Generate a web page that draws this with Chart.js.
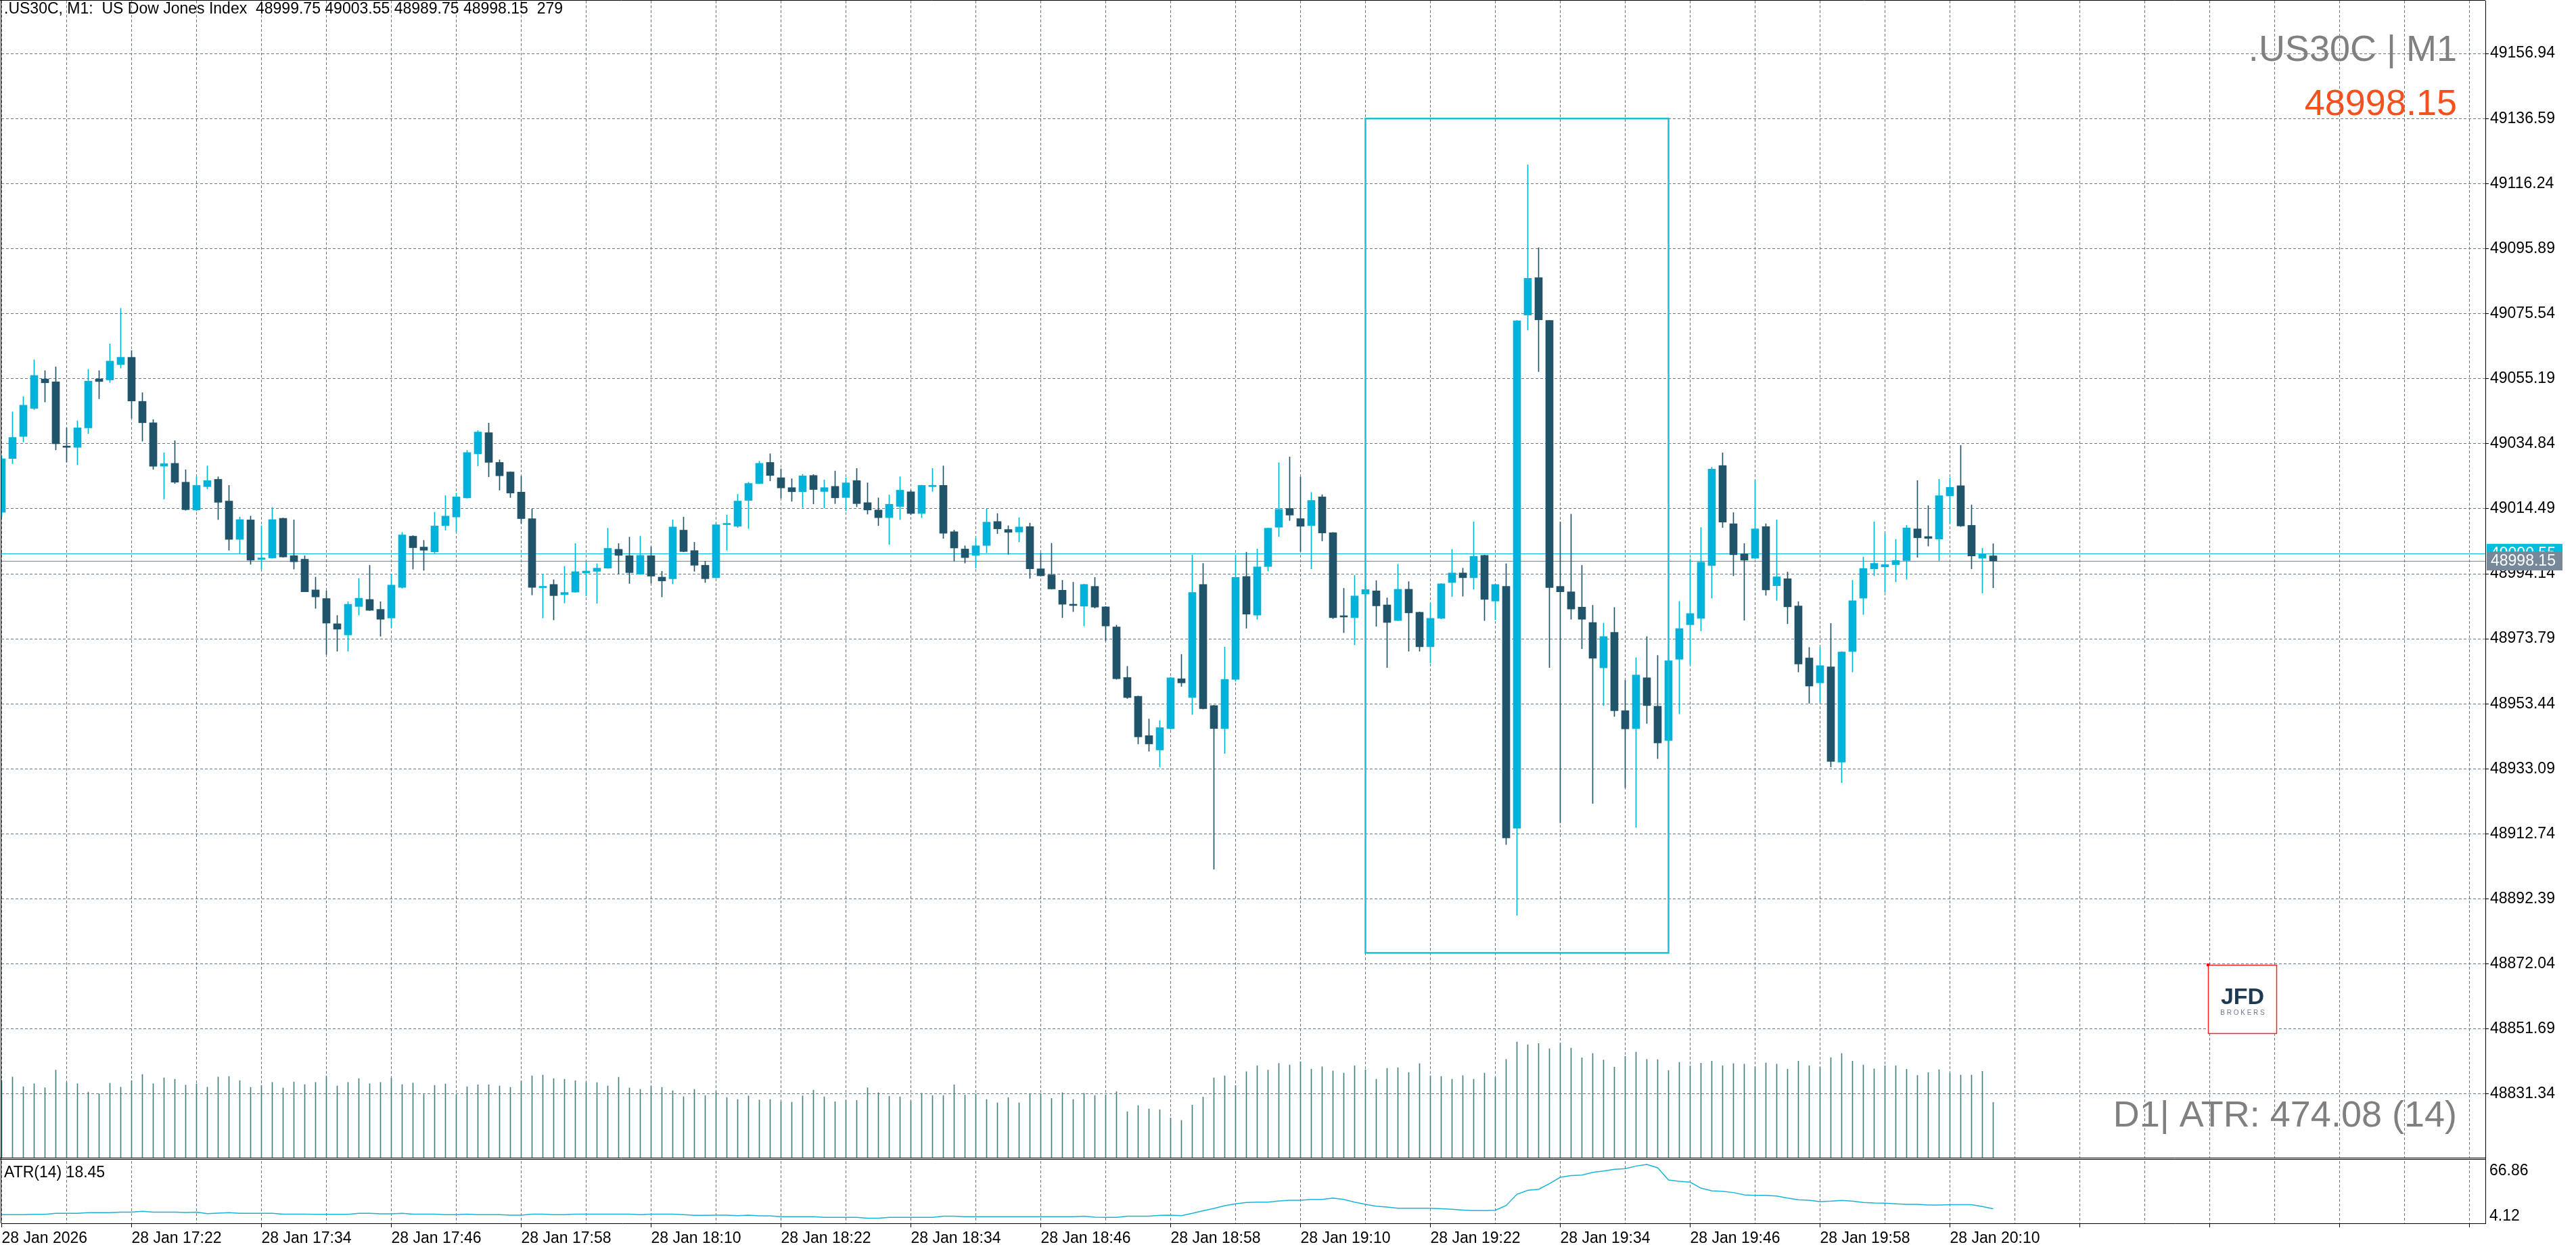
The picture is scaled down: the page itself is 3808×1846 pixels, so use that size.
<!DOCTYPE html>
<html>
<head>
<meta charset="utf-8">
<script src="https://cdn.jsdelivr.net/npm/chart.js@4/dist/chart.umd.min.js"></script>
<style>
    html, body { margin: 0; padding: 0; background: #ffffff; overflow: hidden; }
    canvas { display: block; }
</style>
</head>
<body>
<canvas id="priceChart" width="3808" height="1846"></canvas>
<script>
/*
 * US30C M1 chart - candles, tick volume and ATR(14)
 */

// One entry per minute bar, 17:10 .. 20:14
const opens = [
    49013.4, 49030.2, 49037.1, 49045.9, 49055.1, 49054.2, 49034.1, 49033.7, 49039.8, 49055.1,
    49054.8, 49059.6, 49061.9, 49048.1, 49041.4, 49027.8, 49028.7, 49022.8, 49014.1, 49021.4,
    49023.7, 49016.9, 49004.9, 49011.0, 48998.6, 48999.1, 49011.5, 48999.8, 48998.7, 48989.1,
    48986.4, 48978.5, 48975.0, 48983.9, 48986.1, 48983.0, 48980.3, 48989.9, 49005.9, 49002.5,
    49001.0, 49009.2, 49011.9, 49017.9, 49031.7, 49038.3, 49029.0, 49026.0, 49019.7, 49011.4,
    48989.8, 48990.8, 48987.6, 48988.4, 48994.4, 48994.9, 48995.9, 49001.8, 48999.8, 48994.0,
    48999.8, 48993.1, 48992.6, 49007.8, 49001.4, 48996.8, 48992.9, 49009.5, 49009.0, 49017.1,
    49022.4, 49029.0, 49024.2, 49021.1, 49019.8, 49024.9, 49019.9, 49021.5, 49018.0, 49023.3,
    49016.4, 49014.1, 49011.7, 49015.2, 49019.8, 49013.0, 49021.4, 49021.8, 49007.3, 49001.9,
    48999.9, 49003.0, 49010.5, 49008.0, 49007.2, 49008.9, 48995.7, 48993.8, 48989.0, 48984.5,
    48984.0, 48990.2, 48983.8, 48977.5, 48961.7, 48955.8, 48943.5, 48939.0, 48945.7, 48961.3,
    48955.4, 48990.8, 48952.9, 48945.7, 48961.1, 48993.3, 48981.2, 48996.4, 49008.7, 49014.6,
    49011.4, 49009.2, 49018.2, 49007.0, 48980.9, 48980.4, 48987.8, 48988.8, 48984.4, 48979.5,
    48989.3, 48982.1, 48971.3, 48980.2, 48991.4, 48994.4, 48992.9, 48999.9, 48985.6, 48990.2,
    48914.5, 49075.1, 49086.8, 49073.4, 48990.2, 48988.5, 48983.7, 48978.9, 48964.7, 48975.8,
    48951.3, 48945.7, 48961.6, 48952.7, 48942.0, 48967.4, 48978.2, 48980.2, 48996.7, 49028.0,
    49009.8, 49000.4, 48999.0, 49008.9, 48990.4, 48992.6, 48984.1, 48967.8, 48960.0, 48965.0,
    48935.2, 48969.8, 48986.5, 48995.7, 48996.3, 48997.0, 48998.3, 49008.2, 49005.8, 49005.0,
    49018.5, 49021.7, 49009.3, 48999.0, 48999.75
];
const highs = [
    49031.0, 49044.8, 49049.6, 49061.1, 49057.7, 49058.9, 49039.8, 49042.0, 49058.1, 49057.7,
    49066.1, 49077.2, 49064.0, 49050.8, 49042.4, 49032.0, 49035.8, 49026.7, 49024.4, 49027.9,
    49024.5, 49021.8, 49011.9, 49012.2, 49009.2, 49014.9, 49011.6, 49011.0, 48999.8, 48993.1,
    48988.8, 48981.1, 48985.4, 48992.7, 48996.8, 48985.4, 48994.1, 49007.1, 49006.1, 49004.6,
    49013.4, 49018.6, 49019.4, 49032.8, 49039.0, 49041.3, 49029.8, 49026.1, 49024.7, 49014.4,
    48994.1, 48992.3, 48996.5, 49003.6, 48998.1, 48997.3, 49008.4, 49003.6, 49005.6, 49005.9,
    49002.6, 48994.9, 49011.0, 49011.9, 49004.0, 48998.1, 49010.0, 49012.5, 49019.0, 49022.8,
    49029.4, 49031.7, 49027.0, 49023.9, 49025.3, 49025.2, 49023.5, 49026.3, 49024.2, 49027.1,
    49022.6, 49017.9, 49018.8, 49024.5, 49020.3, 49021.9, 49027.1, 49027.9, 49007.8, 49002.9,
    49005.3, 49014.4, 49013.0, 49009.2, 49011.7, 49010.0, 49000.6, 49003.7, 48992.1, 48991.5,
    48990.9, 48993.0, 48983.9, 48978.1, 48965.2, 48955.9, 48948.7, 48948.2, 48961.8, 48968.9,
    49000.0, 48997.4, 48953.0, 48971.2, 49000.0, 49000.9, 49001.9, 49008.5, 49028.9, 49030.7,
    49024.4, 49019.6, 49018.9, 49007.1, 48989.6, 48993.6, 48990.5, 48992.0, 48986.6, 48997.1,
    48991.7, 48982.2, 48984.9, 48991.1, 49001.8, 48995.9, 49010.4, 49000.0, 48990.9, 48997.3,
    49073.4, 49122.1, 49096.2, 49073.5, 49010.4, 49012.8, 48996.8, 48984.3, 48978.7, 48983.6,
    48960.8, 48967.9, 48974.5, 48968.6, 48967.5, 48985.5, 48998.8, 49008.6, 49027.5, 49032.0,
    49013.3, 49003.6, 49023.3, 49009.8, 49011.0, 48994.7, 48985.4, 48971.1, 48971.1, 48978.6,
    48969.8, 48992.1, 48999.4, 49010.4, 49006.7, 49004.9, 49009.3, 49023.3, 49015.5, 49023.7,
    49024.2, 49034.3, 49015.7, 49002.1, 49003.55
];
const lows = [
    49012.0, 49028.6, 49035.4, 49045.5, 49047.9, 49032.9, 49029.1, 49028.3, 49038.0, 49048.9,
    49054.0, 49058.5, 49042.8, 49035.6, 49026.8, 49017.5, 49022.4, 49014.0, 49013.8, 49020.7,
    49011.1, 49001.5, 49000.3, 48997.1, 48995.6, 48999.0, 48999.3, 48995.6, 48988.5, 48983.3,
    48968.9, 48969.9, 48969.9, 48981.2, 48982.6, 48974.6, 48977.3, 48989.6, 48995.6, 48995.2,
    49000.6, 49007.8, 49007.3, 49017.8, 49027.9, 49024.5, 49020.3, 49018.0, 49009.9, 48987.5,
    48980.3, 48979.7, 48985.0, 48988.3, 48987.2, 48984.9, 48995.8, 48994.1, 48991.1, 48993.9,
    48991.2, 48986.9, 48991.0, 49001.0, 48994.9, 48991.4, 48992.8, 49001.5, 49008.6, 49008.3,
    49022.3, 49023.2, 49017.8, 49016.8, 49014.9, 49016.0, 49014.7, 49016.1, 49013.8, 49015.1,
    49012.8, 49009.2, 49003.3, 49011.1, 49012.6, 49011.7, 49019.9, 49005.2, 48998.1, 48997.5,
    48995.9, 49000.7, 49006.7, 49000.2, 49004.1, 48992.7, 48993.4, 48989.3, 48980.4, 48982.3,
    48977.8, 48983.4, 48973.1, 48961.1, 48955.1, 48940.9, 48938.6, 48933.7, 48945.5, 48958.9,
    48950.1, 48951.8, 48901.7, 48937.9, 48960.5, 48977.1, 48979.9, 48995.0, 49005.8, 49010.8,
    49001.1, 48995.7, 49004.4, 48980.1, 48975.7, 48971.9, 48986.5, 48977.7, 48964.8, 48979.4,
    48969.9, 48969.9, 48966.2, 48980.0, 48987.0, 48987.1, 48989.3, 48979.5, 48979.7, 48909.4,
    48887.3, 49070.4, 49057.4, 48964.8, 48916.2, 48979.9, 48970.7, 48922.3, 48952.9, 48949.5,
    48927.2, 48914.8, 48947.3, 48936.3, 48941.5, 48950.3, 48965.7, 48976.3, 48986.5, 49008.6,
    48993.5, 48979.6, 48998.9, 48987.4, 48985.8, 48978.5, 48963.4, 48953.6, 48954.0, 48933.7,
    48928.8, 48963.4, 48981.4, 48993.5, 48988.4, 48991.6, 48992.4, 48999.3, 49002.8, 48998.3,
    49010.0, 49008.9, 48995.7, 48988.1, 48989.75
];
const closes = [
    49030.1, 49036.8, 49046.9, 49056.2, 49053.9, 49034.8, 49033.7, 49039.8, 49054.4, 49054.3,
    49060.7, 49061.9, 49048.2, 49041.4, 49027.8, 49028.6, 49022.8, 49014.2, 49021.8, 49023.3,
    49016.5, 49004.9, 49011.1, 48998.4, 48999.1, 49011.1, 48999.4, 48997.9, 48988.5, 48986.9,
    48978.7, 48976.8, 48984.6, 48986.5, 48982.7, 48979.9, 48990.6, 49006.3, 49002.3, 49001.5,
    49009.1, 49012.2, 49018.2, 49032.1, 49038.5, 49029.0, 49024.8, 49019.4, 49011.4, 48989.9,
    48990.2, 48987.3, 48988.3, 48994.8, 48995.0, 48995.9, 49002.1, 48999.9, 48994.5, 48999.9,
    48993.4, 48991.9, 49008.8, 49001.1, 48996.8, 48992.6, 49009.5, 49009.6, 49016.9, 49022.4,
    49028.7, 49024.9, 49021.0, 49019.8, 49024.8, 49020.5, 49021.1, 49017.9, 49022.6, 49016.1,
    49014.1, 49011.7, 49015.9, 49020.3, 49013.0, 49021.8, 49021.8, 49006.8, 49002.2, 48999.2,
    49002.9, 49010.3, 49008.2, 49007.1, 49008.8, 48995.7, 48993.5, 48989.4, 48984.6, 48984.2,
    48990.8, 48983.7, 48977.8, 48961.3, 48955.4, 48943.1, 48940.9, 48946.0, 48961.6, 48960.0,
    48988.3, 48951.9, 48945.7, 48961.1, 48993.0, 48981.5, 48996.3, 49008.4, 49014.3, 49012.5,
    49009.0, 49017.1, 49006.9, 48980.4, 48980.6, 48987.2, 48989.2, 48984.1, 48978.9, 48989.3,
    48981.9, 48971.3, 48980.2, 48991.0, 48994.4, 48992.9, 48999.6, 48986.1, 48990.8, 48911.5,
    49073.3, 49086.6, 49073.6, 48989.8, 48988.5, 48983.1, 48979.9, 48967.7, 48974.5, 48951.3,
    48945.6, 48962.5, 48952.9, 48941.2, 48966.9, 48977.0, 48981.7, 48997.8, 49026.9, 49010.3,
    49000.1, 48998.4, 49008.2, 48989.1, 48993.2, 48983.8, 48965.9, 48959.0, 48965.4, 48935.4,
    48969.7, 48985.7, 48995.8, 48997.4, 48997.0, 48998.3, 49008.5, 49005.4, 49005.2, 49018.6,
    49021.2, 49009.1, 48999.7, 49000.4, 48998.15
];
// Tick volume per bar
const volumes = [
    390, 407, 358, 373, 353, 442, 380, 373, 331, 322, 376, 356, 389, 420, 373, 403, 396, 366, 372, 356,
    407, 410, 389, 355, 365, 380, 352, 382, 369, 380, 410, 362, 380, 399, 373, 380, 402, 369, 377, 319,
    365, 372, 319, 358, 368, 368, 362, 355, 386, 413, 417, 399, 396, 388, 380, 379, 362, 406, 352, 345,
    362, 355, 338, 308, 345, 313, 333, 304, 294, 312, 291, 294, 282, 280, 312, 341, 307, 282, 289, 289,
    353, 328, 310, 307, 285, 325, 313, 314, 368, 316, 322, 294, 277, 303, 277, 322, 322, 299, 328, 294,
    325, 314, 316, 333, 232, 263, 246, 242, 201, 188, 265, 306, 403, 413, 364, 434, 464, 442, 476, 468,
    484, 447, 459, 438, 427, 464, 443, 396, 451, 454, 430, 475, 413, 410, 396, 414, 396, 427, 406, 496,
    584, 570, 576, 550, 577, 553, 504, 526, 493, 457, 512, 533, 496, 495, 440, 481, 463, 477, 487, 464,
    475, 472, 459, 478, 472, 447, 487, 464, 457, 505, 526, 487, 468, 448, 464, 464, 446, 415, 429, 444,
    427, 417, 417, 436, 279
];
// ATR(14) indicator values
const atrValues = [
    12.6, 12.6, 12.6, 13.0, 13.0, 13.9, 13.9, 13.9, 14.6, 14.6,
    14.6, 15.2, 15.2, 15.9, 15.2, 15.2, 15.2, 14.8, 15.2, 13.7,
    14.1, 14.6, 13.9, 13.9, 13.9, 13.9, 13.2, 13.2, 13.2, 13.0,
    13.0, 13.0, 13.0, 13.9, 13.9, 13.5, 13.5, 13.9, 13.2, 13.2,
    13.2, 12.6, 12.6, 13.2, 12.6, 12.6, 12.6, 12.1, 12.1, 13.2,
    13.2, 12.6, 12.6, 13.2, 13.2, 13.2, 13.2, 13.2, 13.2, 12.6,
    13.2, 13.2, 13.2, 12.6, 11.9, 11.9, 12.1, 12.1, 11.7, 12.1,
    11.5, 11.5, 10.6, 10.6, 10.6, 10.6, 9.9, 9.9, 9.9, 9.9,
    9.2, 9.2, 9.9, 9.9, 9.9, 9.9, 9.9, 11.2, 11.2, 10.6,
    10.6, 10.6, 10.6, 10.6, 10.6, 10.6, 10.6, 10.6, 10.6, 10.6,
    11.2, 10.1, 9.9, 9.9, 11.2, 11.2, 11.2, 11.9, 12.1, 11.7,
    13.9, 16.4, 18.8, 21.5, 23.3, 24.6, 25.0, 25.0, 26.1,
    26.8, 26.8, 27.7, 27.7, 29.0, 27.7, 25.0, 22.8, 21.0, 20.1,
    19.0, 19.0, 19.0, 19.0, 18.4, 17.9, 17.2, 16.6, 16.6, 17.0,
    21.7, 32.8, 36.6, 37.7, 43.3, 49.5, 51.1, 51.7, 54.4, 55.7,
    57.3, 58.0, 60.6, 62.2, 58.9, 46.8, 45.5, 44.6, 38.8, 36.2,
    35.7, 34.4, 32.2, 31.7, 31.7, 31.0, 29.0, 27.3, 26.8, 25.5,
    25.9, 26.6, 25.9, 24.6, 24.1, 23.9, 23.3, 22.8, 22.8, 22.1,
    22.1, 22.4, 22.4, 22.4, 20.6, 18.45
];

// Axis labels
const xTickLabels = [
    '28 Jan 2026', '28 Jan 17:22', '28 Jan 17:34', '28 Jan 17:46', '28 Jan 17:58', '28 Jan 18:10',
    '28 Jan 18:22', '28 Jan 18:34', '28 Jan 18:46', '28 Jan 18:58', '28 Jan 19:10', '28 Jan 19:22',
    '28 Jan 19:34', '28 Jan 19:46', '28 Jan 19:58', '28 Jan 20:10'
];
const priceTicks = [
    49156.94, 49136.59, 49116.24, 49095.89, 49075.54, 49055.19, 49034.84, 49014.49, 48994.14,
    48973.79, 48953.44, 48933.09, 48912.74, 48892.39, 48872.04, 48851.69, 48831.34
];
const atrTicks = [66.86, 4.12];

// Current quote and the drawn rectangle (bar index / price)
const bidPrice = 48998.15;
const askPrice = 49000.55;
const boxBars = [126, 154];
const boxPrices = [49136.59, 48875.5];

const COLOR_BULL = '#00b4d9';
const COLOR_BEAR = '#1f546b';
const COLOR_GRID = '#6a7888';
const COLOR_VOLUME = '#43807f';
const COLOR_ATR = '#1ab4d8';
const COLOR_ASK = '#00bde0';
const COLOR_BID = '#778899';
const FONT_SMALL = '23px "Liberation Sans", Arial, sans-serif';
const FONT_BIG = '54px "Liberation Sans", Arial, sans-serif';

const candleColors = closes.map((c, i) => c >= opens[i] ? COLOR_BULL : COLOR_BEAR);

/**
 * Draw text, lines, price tags and the rectangle on top of the chart
 */
const overlayPlugin = {
    id: 'mt5Overlay',
    beforeDatasetsDraw(chart) {
        const { ctx, chartArea: a, scales } = chart;
        ctx.save();
        ctx.lineWidth = 1;
        [[askPrice, COLOR_ASK], [bidPrice, COLOR_BID]].forEach(([price, color]) => {
            const py = Math.round(scales.y.getPixelForValue(price)) + 0.5;
            ctx.strokeStyle = color;
            ctx.beginPath();
            ctx.moveTo(a.left, py);
            ctx.lineTo(a.right, py);
            ctx.stroke();
        });
        ctx.restore();
    },
    afterDatasetsDraw(chart) {
        const { ctx, chartArea: a, scales } = chart;
        const x1 = scales.x.getPixelForValue(boxBars[0]);
        const x2 = scales.x.getPixelForValue(boxBars[1]);
        const y1 = scales.y.getPixelForValue(boxPrices[0]);
        const y2 = scales.y.getPixelForValue(boxPrices[1]);
        ctx.save();
        ctx.beginPath();
        ctx.rect(a.left, a.top, a.right - a.left, a.bottom - a.top);
        ctx.clip();
        ctx.strokeStyle = '#17c1d1';
        ctx.lineWidth = 2.5;
        ctx.strokeRect(x1, y1, x2 - x1, y2 - y1);
        ctx.restore();
    },
    afterDraw(chart) {
        const { ctx, chartArea: a, scales } = chart;
        ctx.save();

        // Frame and pane separator
        const paneBottom = Math.round(scales.yVol.getPixelForValue(0));
        ctx.strokeStyle = '#000000';
        ctx.lineWidth = 1;
        ctx.beginPath();
        ctx.moveTo(a.left - 0.5, 0);
        ctx.lineTo(a.left - 0.5, a.bottom);
        ctx.moveTo(0, 0.5);
        ctx.lineTo(a.right, 0.5);
        ctx.stroke();
        ctx.fillStyle = '#ffffff';
        ctx.fillRect(a.left, paneBottom, a.right - a.left, 3);
        ctx.beginPath();
        ctx.moveTo(0, paneBottom + 0.5);
        ctx.lineTo(a.right, paneBottom + 0.5);
        ctx.moveTo(0, paneBottom + 2.5);
        ctx.lineTo(a.right, paneBottom + 2.5);
        ctx.stroke();

        // Header line and indicator label
        ctx.fillStyle = '#000000';
        ctx.font = FONT_SMALL;
        ctx.textAlign = 'left';
        ctx.textBaseline = 'alphabetic';
        ctx.fillText('.US30C, M1:  US Dow Jones Index  48999.75 49003.55 48989.75 48998.15  279', 6, 20);
        ctx.fillText('ATR(14) 18.45', 6, paneBottom + 29);

        // ATR scale labels
        ctx.fillText(atrTicks[0].toFixed(2), a.right + 6, paneBottom + 26);
        ctx.fillText(atrTicks[1].toFixed(2), a.right + 6, a.bottom - 4);

        // Big labels on the right
        ctx.font = FONT_BIG;
        ctx.textAlign = 'right';
        ctx.fillStyle = '#808080';
        ctx.fillText('.US30C | M1', 3632, 90);
        ctx.fillText('D1| ATR: 474.08 (14)', 3632, 1665);
        ctx.fillStyle = '#f4511e';
        ctx.fillText(bidPrice.toFixed(2), 3632, 170);

        // Ask / bid price tags on the axis
        ctx.font = FONT_SMALL;
        ctx.textAlign = 'left';
        ctx.textBaseline = 'middle';
        const tagX = a.right + 2;
        const tagW = 112;
        const askY = scales.y.getPixelForValue(askPrice);
        const bidY = scales.y.getPixelForValue(bidPrice);
        ctx.fillStyle = COLOR_ASK;
        ctx.fillRect(tagX, askY - 14, tagW, 28);
        ctx.fillStyle = '#ffffff';
        ctx.fillText(askPrice.toFixed(2), tagX + 6, askY + 1);
        ctx.fillStyle = COLOR_BID;
        ctx.fillRect(tagX, bidY - 14, tagW, 28);
        ctx.fillStyle = '#ffffff';
        ctx.fillText(bidPrice.toFixed(2), tagX + 6, bidY + 1);

        // Broker logo
        ctx.fillStyle = '#ffffff';
        ctx.fillRect(3264, 1426, 102, 102);
        ctx.strokeStyle = '#ff2020';
        ctx.lineWidth = 1.5;
        ctx.strokeRect(3264.5, 1426.5, 101, 101);
        ctx.fillStyle = '#ff0000';
        ctx.fillRect(3262, 1424, 4, 4);
        ctx.fillStyle = '#1d3a52';
        ctx.textAlign = 'center';
        ctx.textBaseline = 'alphabetic';
        ctx.font = 'bold 34px "Liberation Sans", Arial, sans-serif';
        ctx.fillText('JFD', 3315, 1484);
        ctx.font = '10px "Liberation Sans", Arial, sans-serif';
        ctx.fillStyle = '#6b7a88';
        ctx.fillText('B R O K E R S', 3315, 1500);

        ctx.restore();
    }
};

const ctx = document.getElementById('priceChart').getContext('2d');

const priceChart = new Chart(ctx, {
    type: 'bar',
    data: {
        datasets: [
            {
                label: 'Wicks',
                data: opens.map((o, i) => ({ x: i, y: [lows[i], highs[i]] })),
                backgroundColor: candleColors,
                barThickness: 1,
                grouped: false,
                yAxisID: 'y',
                order: 2
            },
            {
                label: 'Bodies',
                data: opens.map((o, i) => ({ x: i, y: [o, closes[i]] })),
                backgroundColor: candleColors,
                barThickness: 11,
                minBarLength: 2,
                grouped: false,
                yAxisID: 'y',
                order: 1
            },
            {
                label: 'Volume',
                data: volumes.map((v, i) => ({ x: i, y: v })),
                backgroundColor: COLOR_VOLUME,
                barThickness: 1,
                grouped: false,
                yAxisID: 'yVol',
                order: 3
            },
            {
                type: 'line',
                label: 'ATR(14)',
                data: atrValues.map((v, i) => ({ x: i, y: v })),
                borderColor: COLOR_ATR,
                borderWidth: 1.5,
                pointRadius: 0,
                tension: 0,
                yAxisID: 'yAtr',
                order: 0
            }
        ]
    },
    options: {
        responsive: false,
        devicePixelRatio: 1,
        animation: false,
        events: [],
        layout: {
            padding: { left: 2, top: 1, right: 0, bottom: 0 }
        },
        plugins: {
            legend: { display: false },
            tooltip: { enabled: false }
        },
        scales: {
            x: {
                type: 'linear',
                position: 'bottom',
                min: -0.03125,
                max: 229.47,
                offset: false,
                afterBuildTicks: function(scale) {
                    const ticks = [];
                    for (let v = 0; v <= 228; v += 6) {
                        ticks.push({ value: v });
                    }
                    scale.ticks = ticks;
                },
                afterFit: function(scale) {
                    scale.height = 38;
                    scale.paddingLeft = 0;
                    scale.paddingRight = 0;
                },
                ticks: {
                    autoSkip: false,
                    maxRotation: 0,
                    minRotation: 0,
                    align: 'start',
                    padding: 3,
                    color: '#000000',
                    font: { family: '"Liberation Sans", Arial, sans-serif', size: 23 },
                    callback: function(value) {
                        return value % 12 === 0 && xTickLabels[value / 12] ? xTickLabels[value / 12] : '';
                    }
                },
                grid: {
                    offset: false,
                    color: COLOR_GRID,
                    lineWidth: 1,
                    tickLength: 6,
                    tickColor: function(context) {
                        return context.tick && context.tick.value % 12 === 0 ? '#000000' : 'rgba(0,0,0,0)';
                    }
                },
                border: { display: true, color: '#000000', width: 1, dash: [4, 3] }
            },
            y: {
                type: 'linear',
                position: 'right',
                min: 48790.89,
                max: 49173.48,
                afterBuildTicks: function(scale) {
                    scale.ticks = priceTicks.map(v => ({ value: v }));
                },
                afterFit: function(scale) {
                    scale.width = 134;
                    scale.paddingTop = 0;
                    scale.paddingBottom = 0;
                },
                ticks: {
                    padding: 2,
                    color: '#000000',
                    font: { family: '"Liberation Sans", Arial, sans-serif', size: 23 },
                    callback: function(value) {
                        return value.toFixed(2);
                    }
                },
                grid: {
                    color: COLOR_GRID,
                    lineWidth: 1,
                    tickLength: 5,
                    tickColor: '#000000'
                },
                border: { display: true, color: '#000000', width: 1, dash: [4, 3] }
            },
            yVol: {
                type: 'linear',
                display: false,
                min: -331.3,
                max: 5839.6
            },
            yAtr: {
                type: 'linear',
                display: false,
                min: 4.12,
                max: 1210.1
            }
        }
    },
    plugins: [overlayPlugin]
});
</script>
</body>
</html>
